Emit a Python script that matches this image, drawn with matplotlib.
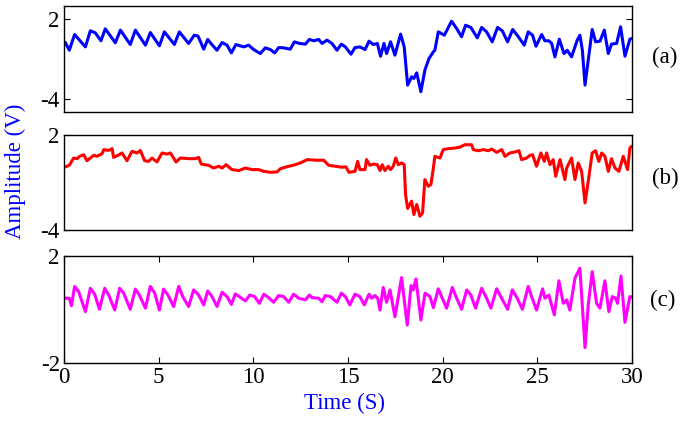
import matplotlib
matplotlib.use("Agg")
import matplotlib.pyplot as plt

# (a) raw amplitude, blue
ta = [0.0, 0.07, 0.28, 0.56, 1.13, 1.39, 1.65, 1.95, 2.18, 2.71, 2.98, 3.50, 3.77, 4.30, 4.56,
      5.04, 5.30, 5.83, 6.09, 6.58, 6.88, 7.08, 7.38, 7.59, 7.76, 8.08, 8.35, 8.61, 8.84, 9.08,
      9.49, 9.75, 10.02, 10.37, 10.63, 10.90, 11.13, 11.34, 11.60, 11.95, 12.17, 12.43, 12.75,
      12.96, 13.19, 13.45, 13.63, 13.89, 14.15, 14.42, 14.65, 14.86, 15.16, 15.37, 15.63, 15.90,
      16.11, 16.34, 16.55, 16.72, 16.90, 17.04, 17.25, 17.48, 17.78, 17.97, 18.15, 18.36, 18.48,
      18.63, 18.85, 19.06, 19.28, 19.51, 19.59, 19.77, 20.09, 20.47, 20.74, 21.00, 21.21, 21.49,
      21.83, 22.06, 22.32, 22.62, 22.90, 23.15, 23.43, 23.70, 24.00, 24.31, 24.52, 24.75, 24.93,
      25.23, 25.40, 25.61, 25.76, 25.93, 26.16, 26.41, 26.58, 26.81, 27.11, 27.25, 27.38, 27.52,
      27.69, 27.90, 28.08, 28.31, 28.54, 28.75, 28.92, 29.19, 29.40, 29.63, 29.89, 30.0]
va = [0.30, 0.25, -0.33, 0.85, -0.08, 1.13, 0.98, 0.38, 1.28, 0.23, 1.18, 0.10, 1.18, 0.05, 1.00,
      0.00, 1.05, 0.10, 1.05, 0.18, 0.80, 0.73, -0.25, 0.48, 0.18, -0.33, 0.25, 0.05, -0.53, 0.10,
      -0.08, 0.05, -0.28, -0.58, -0.15, -0.28, -0.53, -0.13, -0.15, -0.25, 0.30, 0.18, 0.13,
      0.48, 0.38, 0.48, 0.18, 0.43, 0.18, -0.33, 0.13, -0.08, -0.63, -0.13, -0.08, -0.28,
      0.35, 0.10, 0.18, -0.78, 0.18, -0.58, 0.30, -0.70, 0.88, -0.08, -2.95, -2.33, -2.45,
      -2.03, -3.45, -1.83, -0.95, -0.45, -0.33, 1.05, 0.80, 1.85, 1.30, 0.68, 1.55, 1.38,
      0.60, 1.38, 1.05, 0.30, 1.38, 1.13, 0.30, 1.23, 0.68, 0.05, 1.05, 0.80, -0.03,
      0.85, 0.38, 0.38, 0.18, -0.83, 0.50, -0.58, -0.33, -0.83, 0.43, 0.80, -0.33, -2.95,
      -1.08, 1.23, 0.30, 0.35, 1.18, -0.58, 0.13, 0.18, 1.43, -0.78, 0.50, 0.55]

# (b) filtered amplitude, red
tb = [0.0, 0.07, 0.28, 0.51, 0.69, 0.83, 1.04, 1.21, 1.57, 1.74, 2.01, 2.10, 2.36, 2.54, 2.62,
      2.85, 3.06, 3.33, 3.59, 3.86, 4.03, 4.26, 4.47, 4.65, 4.91, 5.18, 5.44, 5.62, 5.92, 6.14,
      6.58, 6.94, 7.11, 7.25, 7.64, 7.90, 8.17, 8.35, 8.56, 8.87, 9.23, 9.58, 9.93, 10.28, 10.55,
      10.90, 11.25, 11.43, 11.87, 12.22, 12.48, 12.85, 13.36, 13.72, 13.98, 14.33, 14.68, 14.89,
      15.05, 15.37, 15.51, 15.63, 15.90, 15.98, 16.16, 16.34, 16.55, 16.69, 16.81, 16.95, 17.13,
      17.25, 17.39, 17.52, 17.66, 17.83, 17.97, 18.04, 18.15, 18.36, 18.48, 18.63, 18.80, 18.94,
      19.06, 19.24, 19.38, 19.51, 19.59, 19.86, 20.03, 20.30, 20.65, 20.91, 21.18, 21.53, 21.62,
      21.88, 22.15, 22.41, 22.59, 22.85, 23.12, 23.29, 23.55, 23.82, 24.03, 24.17, 24.44, 24.61,
      24.75, 24.96, 25.19, 25.37, 25.49, 25.67, 25.84, 25.97, 26.20, 26.46, 26.55, 26.81, 26.99,
      27.16, 27.34, 27.52, 27.69, 27.90, 28.08, 28.25, 28.40, 28.57, 28.75, 28.92, 29.10, 29.31,
      29.54, 29.77, 29.89, 29.98]
vb = [-0.05, -0.03, 0.07, 0.53, 0.49, 0.64, 0.74, 0.36, 0.70, 0.64, 0.80, 1.06, 1.01, 1.12, 0.57,
      0.70, 0.85, 0.36, 0.95, 0.85, 1.01, 0.36, 0.32, 0.53, 0.28, 0.85, 0.78, 0.85, 0.28, 0.53,
      0.49, 0.49, 0.57, 0.15, 0.07, -0.10, 0.01, -0.10, 0.11, -0.20, -0.26, -0.10, -0.20, -0.20,
      -0.31, -0.37, -0.35, -0.14, 0.01, 0.11, 0.22, 0.43, 0.39, 0.39, 0.07, 0.01, -0.05, -0.03,
      -0.37, -0.31, 0.32, -0.20, -0.20, 0.43, 0.07, 0.15, 0.11, -0.26, 0.11, -0.26, 0.01,
      -0.20, 0.01, 0.53, 0.11, 0.22, 0.11, -1.77, -2.65, -2.19, -3.03, -2.40, -3.14, -2.93,
      -0.83, -1.25, -1.14, -0.10, 0.64, 0.53, 1.06, 1.12, 1.16, 1.22, 1.37, 1.37, 1.06,
      0.99, 1.06, 0.99, 1.10, 0.89, 1.06, 0.64, 0.85, 0.91, 0.99, 0.43, 0.53, 0.70,
      0.74, 0.01, 0.85, 0.32, 0.85, 0.11, 0.43, -0.62, 0.43, -0.83, -0.10, 0.53, -0.83,
      0.22, -0.31, -2.30, -0.94, 0.85, 0.99, 0.32, 0.85, 0.64, -0.31, 0.49, -0.10, -0.31,
      0.64, -0.20, 1.16, 1.27]

# (c) extracted oscillation, magenta
tc = [0.0, 0.28, 0.39, 0.56, 0.77, 1.13, 1.39, 1.62, 1.87, 2.15, 2.36, 2.68, 2.94, 3.15, 3.50,
      3.77, 3.98, 4.30, 4.56, 4.79, 5.04, 5.26, 5.49, 5.79, 6.06, 6.27, 6.58, 6.85, 7.11, 7.38,
      7.59, 7.82, 8.08, 8.35, 8.61, 8.84, 9.05, 9.26, 9.58, 9.81, 10.07, 10.32, 10.55, 10.81,
      11.07, 11.34, 11.60, 11.87, 12.13, 12.39, 12.75, 12.96, 13.10, 13.45, 13.63, 13.80, 14.07,
      14.42, 14.65, 14.86, 15.10, 15.37, 15.63, 15.86, 16.11, 16.25, 16.42, 16.57, 16.69, 16.86,
      17.04, 17.22, 17.48, 17.83, 18.13, 18.33, 18.45, 18.59, 18.85, 19.07, 19.33, 19.51, 19.77,
      19.98, 20.21, 20.51, 20.74, 21.00, 21.27, 21.49, 21.74, 22.06, 22.32, 22.55, 22.85, 23.12,
      23.43, 23.68, 23.94, 24.21, 24.52, 24.70, 24.96, 25.28, 25.40, 25.61, 25.90, 26.14, 26.37,
      26.55, 26.72, 26.99, 27.25, 27.52, 27.69, 27.90, 28.13, 28.31, 28.57, 28.78, 28.96, 29.14,
      29.24, 29.42, 29.63, 29.77, 29.89, 30.0]
vc = [0.41, 0.41, 0.13, 0.85, 0.66, -0.09, 0.78, 0.56, 0.00, 0.78, 0.53, -0.03, 0.78, 0.60, 0.00,
      0.75, 0.53, 0.04, 0.85, 0.60, -0.03, 0.75, 0.53, 0.10, 0.85, 0.47, 0.10, 0.72, 0.53, 0.16,
      0.68, 0.47, 0.10, 0.63, 0.47, 0.18, 0.57, 0.47, 0.31, 0.53, 0.47, 0.22, 0.56, 0.43,
      0.26, 0.51, 0.47, 0.26, 0.56, 0.41, 0.35, 0.53, 0.43, 0.41, 0.28, 0.51, 0.47,
      0.26, 0.60, 0.47, 0.16, 0.56, 0.47, 0.16, 0.56, 0.41, 0.51, 0.41, -0.03, 0.81,
      0.26, 0.72, -0.28, 1.18, -0.59, 0.88, 0.72, 1.13, -0.40, 0.60, 0.47, 0.06, 0.76,
      0.41, 0.04, 0.81, 0.41, 0.00, 0.72, 0.53, 0.04, 0.78, 0.41, 0.04, 0.76, 0.41,
      0.00, 0.72, 0.41, 0.00, 0.85, 0.47, -0.03, 0.76, 0.41, 0.53, -0.21, 1.06, 0.22,
      0.35, -0.03, 1.16, 1.53, -1.43, 0.16, 1.40, 0.22, 0.04, 1.06, -0.09, 0.47, 0.41,
      0.22, 1.24, -0.49, 0.04, 0.47, 0.45]

plt.rcParams['font.family'] = ['Liberation Serif', 'DejaVu Serif']
plt.rcParams['font.size'] = 16.5
plt.rcParams['axes.unicode_minus'] = False

fig = plt.figure(figsize=(6.81, 4.21), dpi=100)
left, width = 0.094, 0.834
ax1 = fig.add_axes([left, 0.733, width, 0.253])
ax2 = fig.add_axes([left, 0.454, width, 0.226])
ax3 = fig.add_axes([left, 0.138, width, 0.255])

line_kw = dict(lw=2.2, solid_joinstyle='round', solid_capstyle='round')
ax1.plot(ta, va, color='#0000ff', **line_kw)
ax2.plot(tb, vb, color='#ff0000', **line_kw)
ax3.plot(tc, vc, color='#ff00ff', **line_kw)

ax1.set_ylim(-5, 3)
ax1.set_yticks([-4, 2])
ax2.set_ylim(-4, 2)
ax2.set_yticks([-4, 2])
ax3.set_ylim(-2, 2)
ax3.set_yticks([-2, 2])

for ax in (ax1, ax2, ax3):
    ax.set_xlim(0, 30)
    ax.tick_params(direction='in', right=True, top=True, length=4, width=0.8, pad=3)
    for s in ax.spines.values():
        s.set_linewidth(1.0)
ax1.set_xticks([])
ax2.set_xticks([])
ax3.set_xticks([0, 5, 10, 15, 20, 25, 30])

fig.text(665 / 681, 1 - 57 / 421, '(a)', ha='center', va='center')
fig.text(665 / 681, 1 - 178 / 421, '(b)', ha='center', va='center')
fig.text(663 / 681, 1 - 300 / 421, '(c)', ha='center', va='center')

fig.text(15 / 681, 1 - 171 / 421, 'Amplitude (V)', color='#0000ff', rotation=90,
         ha='center', va='center')
fig.text(344 / 681, 1 - 403 / 421, 'Time (S)', color='#0000ff', ha='center', va='center')

fig.savefig('out.png', dpi=100)
